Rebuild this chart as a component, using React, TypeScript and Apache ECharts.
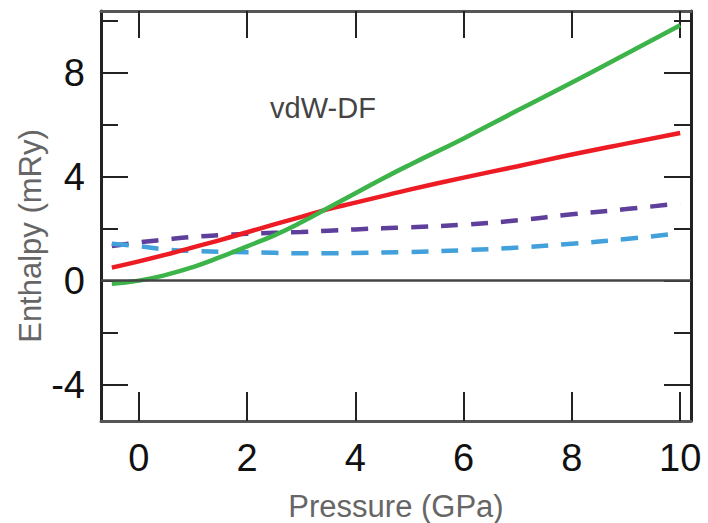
import React, { useEffect, useRef } from "react";
import * as echarts from "echarts";

const pressure = [-0.5, 0, 0.5, 1, 1.5, 2, 2.5, 3, 3.5, 4, 4.5, 5, 6, 7, 8, 9, 10];
const greenH = [-0.12, 0.0, 0.22, 0.52, 0.9, 1.32, 1.74, 2.24, 2.8, 3.36, 3.92, 4.45, 5.47, 6.55, 7.62, 8.72, 9.82];
const redH = [0.5, 0.74, 1.0, 1.28, 1.56, 1.86, 2.16, 2.45, 2.75, 3.0, 3.25, 3.5, 3.96, 4.4, 4.85, 5.27, 5.68];
const purpleH = [1.33, 1.47, 1.58, 1.68, 1.75, 1.8, 1.84, 1.87, 1.92, 1.97, 2.01, 2.05, 2.15, 2.32, 2.55, 2.75, 2.97];
const bluePressure = [-0.5, 0, 0.5, 1, 1.5, 2, 2.5, 3, 3.5, 4, 4.5, 5, 6, 7, 8, 9, 9.9];
const blueH = [1.42, 1.32, 1.2, 1.14, 1.11, 1.09, 1.07, 1.05, 1.05, 1.06, 1.08, 1.1, 1.17, 1.27, 1.42, 1.6, 1.8];

const xTicks = [0, 2, 4, 6, 8, 10];
const yMajorTicks = [-4, 0, 4, 8];
const yMinorTicks = [-2, 2, 6, 10];

const X_MIN = -0.7;
const X_MAX = 10.2;
const Y_MIN = -5.4;
const Y_MAX = 10.37;

const FONT = "'Liberation Sans', Arial, Helvetica, sans-serif";

const pairs = (xs: number[], ys: number[]) => xs.map((x, i) => [x, ys[i]]);

export default function App() {
  const ref = useRef<HTMLDivElement>(null);
  useEffect(() => {
    if (!ref.current) return;
    const chart = echarts.init(ref.current, null, { renderer: "svg" });
    const frameDark = "#222";
    const frameGray = "#555";
    const yAxisBase = (position: "left" | "right", ticks: number[], len: number, labels: boolean, line: boolean, color: string) => ({
      type: "value",
      position,
      min: Y_MIN,
      max: Y_MAX,
      axisLine: { show: line, onZero: false, lineStyle: { color, width: 3 } },
      axisTick: { show: true, inside: true, length: len, customValues: ticks, lineStyle: { color: "#222", width: 2 } },
      axisLabel: labels
        ? { show: true, customValues: ticks, fontSize: 38, color: "#111", fontFamily: FONT, margin: 16 }
        : { show: false },
      splitLine: { show: false },
    });
    const option: any = {
      animation: false,
      backgroundColor: "#fff",
      grid: { left: 101, right: 17, top: 11, bottom: 102, containLabel: false },
      xAxis: [
        {
          type: "value",
          position: "bottom",
          min: X_MIN,
          max: X_MAX,
          axisLine: { show: true, onZero: false, lineStyle: { color: frameGray, width: 3 } },
          axisTick: { show: true, inside: true, length: 29, customValues: xTicks, lineStyle: { color: "#222", width: 2 } },
          axisLabel: { show: true, customValues: xTicks, fontSize: 38, color: "#111", fontFamily: FONT, margin: 18 },
          splitLine: { show: false },
        },
        {
          type: "value",
          position: "top",
          min: X_MIN,
          max: X_MAX,
          axisLine: { show: true, onZero: false, lineStyle: { color: frameGray, width: 3 } },
          axisTick: { show: true, inside: true, length: 27, customValues: xTicks, lineStyle: { color: "#222", width: 2 } },
          axisLabel: { show: false },
          splitLine: { show: false },
        },
      ],
      yAxis: [
        yAxisBase("left", yMajorTicks, 27, true, true, frameDark),
        yAxisBase("left", yMinorTicks, 17, false, false, frameDark),
        yAxisBase("right", yMajorTicks, 27, false, true, frameDark),
        yAxisBase("right", yMinorTicks, 17, false, false, frameDark),
      ],
      series: [
        {
          name: "purple",
          type: "line",
          data: pairs(pressure, purpleH),
          smooth: true,
          showSymbol: false,
          lineStyle: { color: "#5f3f9c", width: 4.5, type: [17, 13] },
        },
        {
          name: "blue",
          type: "line",
          data: pairs(bluePressure, blueH),
          smooth: true,
          showSymbol: false,
          lineStyle: { color: "#42a0db", width: 4.5, type: [17, 13] },
        },
        {
          name: "red",
          type: "line",
          data: pairs(pressure, redH),
          smooth: true,
          showSymbol: false,
          lineStyle: { color: "#ed1c24", width: 4.5 },
        },
        {
          name: "green",
          type: "line",
          data: pairs(pressure, greenH),
          smooth: true,
          showSymbol: false,
          lineStyle: { color: "#3cb44a", width: 4.5 },
        },
        {
          name: "zero",
          type: "line",
          data: [],
          z: 5,
          markLine: {
            silent: true,
            symbol: "none",
            label: { show: false },
            lineStyle: { color: "#444", width: 2.5, type: "solid" },
            data: [{ yAxis: 0 }],
          },
        },
      ],
      graphic: [
        {
          type: "text",
          x: 396,
          y: 506,
          style: { text: "Pressure (GPa)", fontSize: 31, fontFamily: FONT, fill: "#666", textAlign: "center", textVerticalAlign: "middle" },
        },
        {
          type: "text",
          x: 30,
          y: 236,
          rotation: Math.PI / 2,
          style: { text: "Enthalpy (mRy)", fontSize: 31, fontFamily: FONT, fill: "#666", textAlign: "center", textVerticalAlign: "middle" },
        },
        {
          type: "text",
          x: 323,
          y: 108,
          style: { text: "vdW-DF", fontSize: 29, fontFamily: FONT, fill: "#444", textAlign: "center", textVerticalAlign: "middle" },
        },
      ],
    };
    chart.setOption(option);
    return () => chart.dispose();
  }, []);
  return <div ref={ref} style={{ position: "fixed", left: 0, top: 0, width: 708, height: 523 }} />;
}
